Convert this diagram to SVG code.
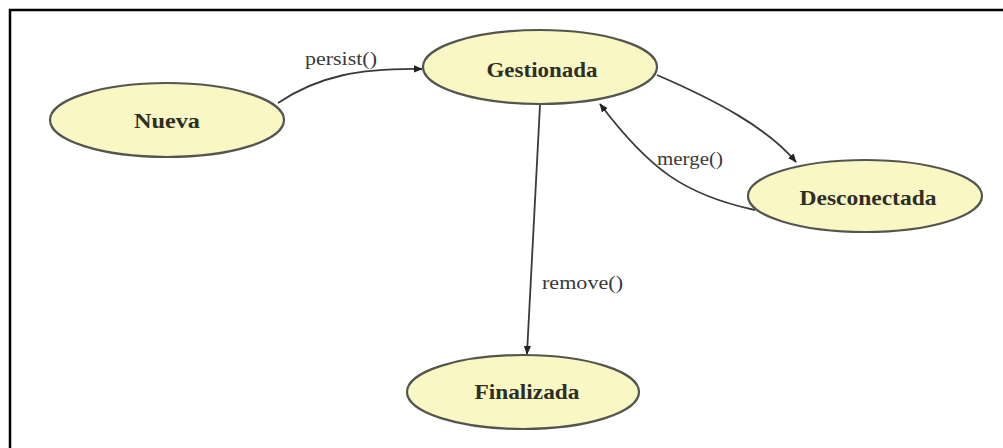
<svg xmlns="http://www.w3.org/2000/svg" width="1003" height="448" viewBox="0 0 1003 448">
  <style>
    .state ellipse { fill: #f9f8c4; stroke: #555550; stroke-width: 2.2; }
    .state text { font-family: "Liberation Serif", "Times New Roman", serif; font-size: 22px; font-weight: bold; fill: #2e2e26; text-anchor: middle; }
    .edge path { fill: none; stroke: #3a3a3a; stroke-width: 1.8; }
    .edge text { font-family: "Liberation Serif", "Times New Roman", serif; font-size: 18px; fill: #3a3a3a; }
  </style>
  <defs>
    <marker id="arrow" viewBox="0 0 10 10" refX="9" refY="5" markerWidth="9" markerHeight="9" markerUnits="userSpaceOnUse" orient="auto">
      <path d="M0,1 L10,5 L0,9 Z" fill="#222"/>
    </marker>
  </defs>

  <rect width="1003" height="448" fill="#ffffff"/>
  <!-- frame -->
  <path d="M10,448 V10 H1003" fill="none" stroke="#000" stroke-width="2.5"/>

  <g id="connectors">
    <g class="edge" id="e-persist">
      <path d="M278,103 C318,76 360,68 422,69" marker-end="url(#arrow)"/>
      <text x="305" y="65" textLength="72" lengthAdjust="spacingAndGlyphs">persist()</text>
    </g>
    <g class="edge" id="e-detach">
      <path d="M657,75 C715,100 768,128 796,162" marker-end="url(#arrow)"/>
    </g>
    <g class="edge" id="e-merge">
      <path d="M755,210 C685,195 650,170 600,104" marker-end="url(#arrow)"/>
      <text x="657" y="165" textLength="66" lengthAdjust="spacingAndGlyphs">merge()</text>
    </g>
    <g class="edge" id="e-remove">
      <path d="M540,105 L527,354" marker-end="url(#arrow)"/>
      <text x="542" y="289" textLength="81" lengthAdjust="spacingAndGlyphs">remove()</text>
    </g>
  </g>

  <g class="state" id="nueva">
    <ellipse cx="167" cy="120" rx="117" ry="37"/>
    <text x="167" y="128" textLength="66" lengthAdjust="spacingAndGlyphs">Nueva</text>
  </g>
  <g class="state" id="gestionada">
    <ellipse cx="540" cy="67" rx="117" ry="37"/>
    <text x="542" y="77" textLength="111" lengthAdjust="spacingAndGlyphs">Gestionada</text>
  </g>
  <g class="state" id="desconectada">
    <ellipse cx="865" cy="196" rx="117" ry="36"/>
    <text x="868" y="205" textLength="137" lengthAdjust="spacingAndGlyphs">Desconectada</text>
  </g>
  <g class="state" id="finalizada">
    <ellipse cx="523" cy="392" rx="116" ry="37"/>
    <text x="527" y="399" textLength="105" lengthAdjust="spacingAndGlyphs">Finalizada</text>
  </g>
</svg>
